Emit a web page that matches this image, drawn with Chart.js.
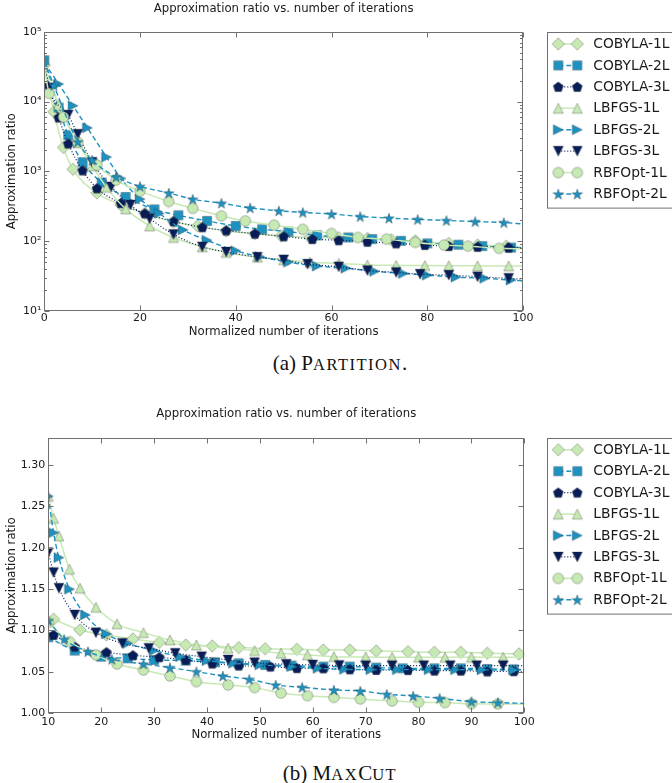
<!DOCTYPE html>
<html><head><meta charset="utf-8">
<script src="https://cdn.jsdelivr.net/npm/chart.js@4.4.1/dist/chart.umd.min.js"></script>
<style>
html,body{margin:0;padding:0;background:#fff;}
body{width:672px;height:783px;position:relative;overflow:hidden;}
.wrap{position:absolute;left:0;width:672px;height:346px;}
#w1{top:0}
#w2{top:400px}
canvas{display:block}
.cap{position:absolute;left:4px;width:672px;text-align:center;font-family:'Liberation Serif','DejaVu Serif',serif;font-size:21px;line-height:24px;color:#111;}
.sc{font-size:16.5px;letter-spacing:1.5px;text-transform:uppercase;}
#cap1{top:351px}
#cap2{top:761px}
</style></head><body>
<div class="wrap" id="w1"><canvas id="c1" width="672" height="346"></canvas></div>
<div class="wrap" id="w2"><canvas id="c2" width="672" height="346"></canvas></div>
<div class="cap" id="cap1">(a) P<span class="sc">artition</span>.</div>
<div class="cap" id="cap2">(b) M<span class="sc">ax</span>C<span class="sc">ut</span></div>
<script>
// ---------- names and tick labels ----------
const seriesNames = ['COBYLA-1L','COBYLA-2L','COBYLA-3L','LBFGS-1L','LBFGS-2L','LBFGS-3L','RBFOpt-1L','RBFOpt-2L'];
const partXTicks = [0,20,40,60,80,100];
const partXTickLabels = ['0','20','40','60','80','100'];
const partYTicks = [10,100,1000,10000,100000];
const partYTickLabels = ['10\u00B9','10\u00B2','10\u00B3','10\u2074','10\u2075'];
const maxXTicks = [10,20,30,40,50,60,70,80,90,100];
const maxXTickLabels = ['10','20','30','40','50','60','70','80','90','100'];
const maxYTicks = [1.00,1.05,1.10,1.15,1.20,1.25,1.30];
const maxYTickLabels = ['1.00','1.05','1.10','1.15','1.20','1.25','1.30'];

// ---------- (a) Partition data ----------
const partCobyla1X = [0,2,4,6,11,16,21,27,32,38,44,49.5,55.5,61.5,67.5,72.5,77.5,84.5,90.5,96.5,100];
const partCobyla1Y = [33000,7100,2200,1070,490,330,250,190,165,140,128,120,113,112,110,105,101,93,88,85,82];
const partCobyla2X = [0,3,5,8,12,17,23,28,34,40,45.5,51,57,63.5,68.5,74.5,80,86.5,91.5,97.5,100];
const partCobyla2Y = [39000,8200,3300,1350,690,430,285,235,195,165,148,137,121,113,107,101,93,89,85,81,80];
const partCobyla3X = [0,1,3,5,8,11,16,21,27,33,38,44,50,56,61.5,67.5,73.5,79.5,84.5,90.5,97,100];
const partCobyla3Y = [36000,16600,5900,2500,1030,570,350,250,192,158,142,128,117,107,103,98,93,88,85,83,81,80];
const partLbfgs1X = [0,3,7,10,13,17,22,27,33,38,44.5,50,55.5,61.5,67.5,73.5,79.5,84.5,90.5,97,100];
const partLbfgs1Y = [32000,9000,2600,1200,590,290,165,113,83,69,59,54,50,48,45.7,45,44.7,44.5,44.3,44.2,44];
const partLbfgs2X = [0,3,6,9,13,16,20,24,29,34,40,45,51,57,63,69,75,80,86,92,97.5,100];
const partLbfgs2Y = [36000,17800,8700,4200,1600,790,400,250,145,103,73,60,50,44,41,37,34.5,32.6,30.5,29.4,27.7,27];
const partLbfgs3X = [0,1,5,7,10,14,18,22,27,33,38,44.5,50,55,61.5,67.5,73.5,78.5,84.5,90.5,97,100];
const partLbfgs3Y = [36000,15500,6400,3400,1350,600,330,210,125,83,70,59,54,47,43,38,35.7,33.7,32.6,31,29.4,28.5];
const partRbf1X = [0,1,4,7,11,15,20,26,31,37,42,48,54,60,65.5,71.5,77.5,83.5,88.5,95,100];
const partRbf1Y = [30000,13100,6000,2600,1230,750,520,370,295,230,195,170,148,129,113,107,96,88,85,79,78];
const partRbf2X = [0,2,7,10,15,20,26,31,37,43,49,54,60,66,72,78,84,90,96,100];
const partRbf2Y = [38000,17000,2650,1450,830,610,490,400,350,300,272,258,245,226,214,205,198,191,185,176];
const partStartMarked = [true,true,false,false,false,false,false,false];

// ---------- (b) MaxCut data ----------
const maxCobyla1X = [10,11,16,21,26,31,36,41,46,51,57,62,67,72,78,83,88,93,99,100];
const maxCobyla1Y = [1.116,1.1135,1.1006,1.0946,1.0898,1.0857,1.0825,1.0813,1.0793,1.078,1.0773,1.0765,1.0765,1.0753,1.0745,1.0737,1.0737,1.0725,1.0717,1.0717];
const maxCobyla2X = [10,15,20,25,30,36,41.5,46,51,56,62,67,72,77,83,88,93,98,100];
const maxCobyla2Y = [1.0918,1.0757,1.0684,1.0664,1.0644,1.0636,1.0616,1.0604,1.0584,1.0576,1.0564,1.0564,1.0552,1.0543,1.0543,1.0543,1.0535,1.0531,1.053];
const maxCobyla3X = [10,11,15,21,26,31,36,41,46,52,57,62,67,72,78,83,88,93,98,100];
const maxCobyla3Y = [1.096,1.0946,1.0805,1.0737,1.07,1.0676,1.0644,1.06,1.0576,1.0564,1.0545,1.0543,1.0531,1.0523,1.0522,1.0515,1.0515,1.0505,1.0508,1.0508];
const maxLbfgs1X = [10,11,12,14,16,19,23,28,33,38,44,49,54,59,64,70,75,80,85,90,96,100];
const maxLbfgs1Y = [1.262,1.2355,1.2142,1.174,1.151,1.128,1.108,1.0974,1.0886,1.0825,1.0785,1.0757,1.0725,1.0705,1.0684,1.068,1.0676,1.0676,1.0676,1.0676,1.0676,1.0676];
const maxLbfgs2X = [10,11,12,14,17,21,25,30,35,40,45,50,56,61,66,71,76,82,87,92,98,100];
const maxLbfgs2Y = [1.262,1.218,1.188,1.1498,1.1188,1.0958,1.0845,1.0757,1.0684,1.0636,1.0604,1.0584,1.0564,1.0543,1.0531,1.0528,1.0527,1.0527,1.0527,1.0525,1.0522,1.0521];
const maxLbfgs3X = [10,11,12,15,19,24,29,34,39,44,49,55,60,65,70,75,81,86,91,96,100];
const maxLbfgs3Y = [1.194,1.170,1.151,1.1188,1.0974,1.0845,1.0785,1.0725,1.0684,1.0644,1.0612,1.0592,1.0584,1.0578,1.0576,1.0576,1.0576,1.0576,1.0576,1.0576,1.0576];
const maxRbf1X = [10,14,19,23,28,33,38,44,49,54,59,64,69,75,80,85,90,95,100];
const maxRbf1Y = [1.1095,1.0866,1.0705,1.0596,1.0523,1.0451,1.0382,1.0342,1.031,1.0245,1.0213,1.0193,1.0173,1.0149,1.0133,1.0129,1.0115,1.0113,1.011];
const maxRbf2X = [10,13,17.5,22,28,33,38,43,48,53,58,64,69,74,79,84,90,95,100];
const maxRbf2Y = [1.112,1.0894,1.0745,1.0652,1.0596,1.0552,1.0503,1.0451,1.0411,1.0342,1.0314,1.0282,1.027,1.023,1.0209,1.0181,1.0141,1.0129,1.012];
const maxStartMarked = [false,true,false,true,true,true,true,true];

// ---------- styles ----------
const GREEN = '#c7e9b4', BLUE = '#1d91c0', NAVY = '#081d58';
const FONT = 'DejaVu Sans';
const TXT = '#1a1a1a';
const FRAME = '#707070';
const styles = [
  {c:GREEN, m:'diamond',  dash:[],    w:1.5},
  {c:BLUE,  m:'square',   dash:[5,3], w:1.4},
  {c:NAVY,  m:'pentagon', dash:[1,2], w:1.2},
  {c:GREEN, m:'triUp',    dash:[],    w:1.5},
  {c:BLUE,  m:'triRight', dash:[5,3], w:1.4},
  {c:NAVY,  m:'triDown',  dash:[1,2], w:1.2},
  {c:GREEN, m:'circle',   dash:[],    w:1.5},
  {c:BLUE,  m:'star',     dash:[5,3], w:1.4}
];

function makeMarker(shape, fill) {
  const S = 16, c = S / 2;
  const cv = document.createElement('canvas');
  cv.width = S; cv.height = S;
  const g = cv.getContext('2d');
  g.beginPath();
  if (shape === 'diamond') {
    const r = 6.2; g.moveTo(c, c - r); g.lineTo(c + r, c); g.lineTo(c, c + r); g.lineTo(c - r, c); g.closePath();
  } else if (shape === 'square') {
    const h = 4.6; g.rect(c - h, c - h, 2 * h, 2 * h);
  } else if (shape === 'pentagon') {
    const r = 5.3;
    for (let i = 0; i < 5; i++) { const a = -Math.PI / 2 + i * 2 * Math.PI / 5; const px = c + r * Math.cos(a), py = c + 0.4 + r * Math.sin(a); if (i) g.lineTo(px, py); else g.moveTo(px, py); }
    g.closePath();
  } else if (shape === 'triUp') {
    const h = 5; g.moveTo(c, c - h); g.lineTo(c + h, c + h); g.lineTo(c - h, c + h); g.closePath();
  } else if (shape === 'triRight') {
    const h = 5; g.moveTo(c + h, c); g.lineTo(c - h, c - h); g.lineTo(c - h, c + h); g.closePath();
  } else if (shape === 'triDown') {
    const h = 5; g.moveTo(c, c + h); g.lineTo(c + h, c - h); g.lineTo(c - h, c - h); g.closePath();
  } else if (shape === 'circle') {
    g.arc(c, c, 5.3, 0, Math.PI * 2);
  } else if (shape === 'star') {
    const ro = 5.6, ri = 2.2;
    for (let i = 0; i < 10; i++) { const r = i % 2 ? ri : ro; const a = -Math.PI / 2 + i * Math.PI / 5; const px = c + r * Math.cos(a), py = c + 0.6 + r * Math.sin(a); if (i) g.lineTo(px, py); else g.moveTo(px, py); }
    g.closePath();
  }
  g.fillStyle = fill; g.fill();
  g.lineWidth = 0.7; g.strokeStyle = 'rgba(40,40,40,0.45)'; g.stroke();
  return cv;
}
const markers = styles.map(s => makeMarker(s.m, s.c));

function buildDatasets(xsList, ysList, startMarked) {
  return seriesNames.map((name, i) => {
    const xs = xsList[i], ys = ysList[i];
    const data = xs.map((x, j) => ({x: x, y: ys[j]}));
    const radii = xs.map((x, j) => (x === 100 || (j === 0 && !startMarked[i])) ? 0 : 5);
    return {
      label: name, data: data,
      borderColor: styles[i].c, backgroundColor: styles[i].c,
      borderWidth: styles[i].w, borderDash: styles[i].dash,
      pointStyle: markers[i], pointRadius: radii, pointHoverRadius: radii,
      fill: false, cubicInterpolationMode: 'monotone', order: 8 - i, clip: 0
    };
  });
}

function makeDeco(cfg) {
  return {
    id: 'deco',
    afterDraw(chart) {
      const ctx = chart.ctx, a = chart.chartArea, xs = chart.scales.x, ys = chart.scales.y;
      ctx.save();
      ctx.strokeStyle = FRAME; ctx.lineWidth = 1; ctx.setLineDash([]);
      const seg = (x1, y1, x2, y2) => { ctx.beginPath(); ctx.moveTo(x1, y1); ctx.lineTo(x2, y2); ctx.stroke(); };
      const L = Math.round(a.left) + 0.5, R = Math.round(a.right) - 0.5, T = Math.round(a.top) + 0.5, B = Math.round(a.bottom) - 0.5;
      cfg.xTicks.forEach(v => { const p = Math.round(xs.getPixelForValue(v)) + 0.5; seg(p, B, p, B - 5); seg(p, T, p, T + 5); });
      cfg.yTicks.forEach(v => { const p = Math.round(ys.getPixelForValue(v)) + 0.5; seg(L, p, L + 5, p); seg(R, p, R - 5, p); });
      (cfg.yMinor || []).forEach(v => { const p = Math.round(ys.getPixelForValue(v)) + 0.5; seg(L, p, L + 2.5, p); seg(R, p, R - 2.5, p); });
      ctx.strokeRect(L, T, R - L, B - T);
      // title
      ctx.fillStyle = TXT; ctx.font = '11.7px "' + FONT + '"'; ctx.textAlign = 'center'; ctx.textBaseline = 'middle';
      ctx.fillText('Approximation ratio vs. number of iterations', (a.left + a.right) / 2, cfg.titleY);
      // legend
      const lx = 547.5, lt = Math.round(a.top) + 0.5, lh = 175.6;
      ctx.fillStyle = '#fff'; ctx.fillRect(lx, lt, 200, lh);
      ctx.strokeStyle = FRAME; ctx.strokeRect(lx, lt, 200, lh);
      seriesNames.forEach((name, i) => {
        const yy = a.top + 12.3 + i * 21.43;
        ctx.save();
        ctx.strokeStyle = styles[i].c; ctx.lineWidth = styles[i].w; ctx.setLineDash(styles[i].dash);
        seg(558.3, yy, 577.3, yy);
        ctx.restore();
        [558.3, 577.3].forEach(mx => ctx.drawImage(markers[i], mx - markers[i].width / 2, yy - markers[i].height / 2));
        ctx.fillStyle = TXT; ctx.font = '13.8px "' + FONT + '"'; ctx.textAlign = 'left'; ctx.textBaseline = 'middle';
        ctx.fillText(name, 593.3, yy + 0.5);
      });
      ctx.restore();
    }
  };
}

function makeChart(id, datasets, sc) {
  return new Chart(document.getElementById(id), {
    type: 'line',
    data: {datasets: datasets},
    options: {
      responsive: false, animation: false, events: [],
      layout: {padding: {top: sc.top, right: sc.right, left: 0, bottom: 0}},
      plugins: {legend: {display: false}, title: {display: false}, tooltip: {enabled: false}},
      scales: {
        x: {
          type: 'linear', min: sc.xMin, max: 100,
          afterBuildTicks: s => { s.ticks = sc.xTicks.map(v => ({value: v})); },
          afterFit: s => { s.height = sc.xH; },
          grid: {display: false, drawTicks: false}, border: {display: false},
          ticks: {autoSkip: false, maxRotation: 0, padding: sc.xPad, color: TXT, font: {family: FONT, size: 11}, callback: (v, i) => sc.xLabels[i]},
          title: {display: true, text: 'Normalized number of iterations', color: TXT, font: {family: FONT, size: 11.7}, padding: {top: 0, bottom: sc.xTitlePad}}
        },
        y: {
          type: sc.yType, min: sc.yMin, max: sc.yMax,
          afterBuildTicks: s => { s.ticks = sc.yTicks.map(v => ({value: v})); },
          afterFit: s => { s.width = sc.yW; },
          grid: {display: false, drawTicks: false}, border: {display: false},
          ticks: {autoSkip: false, padding: 3, color: TXT, font: {family: FONT, size: 11}, callback: (v, i) => sc.yLabels[i]},
          title: {display: true, text: 'Approximation ratio', color: TXT, font: {family: FONT, size: 11.7}, padding: {top: 4.7, bottom: 0}}
        }
      }
    },
    plugins: [makeDeco(sc)]
  });
}

const partMinor = [];
[10, 100, 1000, 10000].forEach(d => { for (let k = 2; k <= 9; k++) partMinor.push(k * d); });

makeChart('c1',
  buildDatasets(
    [partCobyla1X, partCobyla2X, partCobyla3X, partLbfgs1X, partLbfgs2X, partLbfgs3X, partRbf1X, partRbf2X],
    [partCobyla1Y, partCobyla2Y, partCobyla3Y, partLbfgs1Y, partLbfgs2Y, partLbfgs3Y, partRbf1Y, partRbf2Y],
    partStartMarked),
  {top: 31.7, right: 149, xH: 35, yW: 44.3, xPad: 0.5, xTitlePad: 7, xMin: 0,
   xTicks: partXTicks, xLabels: partXTickLabels, yType: 'logarithmic', yMin: 10, yMax: 100000,
   yTicks: partYTicks, yLabels: partYTickLabels, yMinor: partMinor, titleY: 9});

makeChart('c2',
  buildDatasets(
    [maxCobyla1X, maxCobyla2X, maxCobyla3X, maxLbfgs1X, maxLbfgs2X, maxLbfgs3X, maxRbf1X, maxRbf2X],
    [maxCobyla1Y, maxCobyla2Y, maxCobyla3Y, maxLbfgs1Y, maxLbfgs2Y, maxLbfgs3Y, maxRbf1Y, maxRbf2Y],
    maxStartMarked),
  {top: 37.5, right: 147.7, xH: 32.7, yW: 48.3, xPad: 1.8, xTitlePad: 4, xMin: 10,
   xTicks: maxXTicks, xLabels: maxXTickLabels, yType: 'linear', yMin: 1.0, yMax: 1.333,
   yTicks: maxYTicks, yLabels: maxYTickLabels, yMinor: [], titleY: 14.3});
</script>
</body></html>
